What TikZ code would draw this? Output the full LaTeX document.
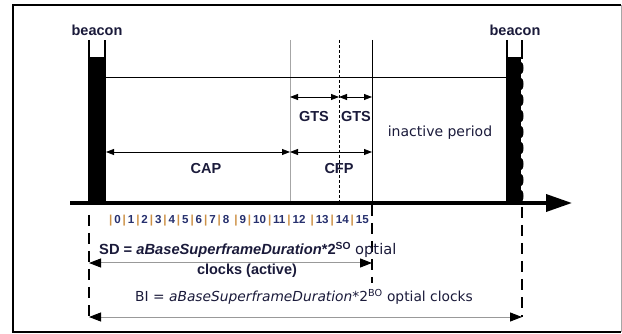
\documentclass[tikz,border=0pt]{standalone}
\usepackage{fontspec}
\setmainfont{Liberation Sans}
\newfontfamily\plainfont{DejaVu Sans}
\usetikzlibrary{arrows.meta}

\definecolor{labelink}{RGB}{26,26,58}
\definecolor{slotbar}{RGB}{205,145,70}
\definecolor{slotnum}{RGB}{38,48,110}
\newcommand{\slotsep}{\textcolor{slotbar}{\,|\,}}

\tikzset{
  lbl/.style={text=labelink, font=\bfseries\fontsize{14.5}{16}\selectfont, inner sep=0pt},
  plainlbl/.style={text=labelink, font=\plainfont\fontsize{13.8}{15}\selectfont, inner sep=0pt},
  dimarrow/.style={{Triangle[length=8pt,width=6pt]}-{Triangle[length=8pt,width=6pt]}, line width=0.8pt},
  spanarrow/.style={{Triangle[length=12pt,width=9pt,color=black]}-{Triangle[length=12pt,width=9pt,color=black]}, gray!80, line width=1pt},
  guideline/.style={line width=2.6pt, dash pattern=on 11pt off 7pt},
  slotline/.style={line width=0.8pt},
  beacontop/.style={line width=1.8pt, line join=miter},
}

\begin{document}
\begin{tikzpicture}[x=1pt,y=-1pt]
  \useasboundingbox (0,0) rectangle (622,334);
  % frame
  \draw[gray!70, line width=0.8pt] (621,5) -- (621,332);
  \draw[line width=1.6pt] (621,5) -- (13,5) -- (13,332) -- (621,332);

  % key points
  \coordinate (gtsA) at (290,97);
  \coordinate (gtsB) at (339,97);
  \coordinate (gtsC) at (372,97);
  \coordinate (capL) at (106,152);
  \coordinate (capR) at (290,152);
  \coordinate (cfpR) at (372,152);
  \coordinate (sdL) at (89,263);
  \coordinate (sdR) at (372,263);
  \coordinate (biL) at (89,317);
  \coordinate (biR) at (522,317);

  % slot boundaries
  \draw[gray!70, slotline] (290,40) -- (290,203);
  \draw[slotline, dashed, dash pattern=on 3pt off 2pt] (339,40) -- (339,203);
  \draw[slotline] (372,40) -- (372,203);
  \draw[slotline] (106,77) -- (506,77);

  % beacons
  \fill (88,58) rectangle (106,203);
  \draw[beacontop] (89,40) -- (89,58) -- (105,58) -- (105,40);
  \fill (506,58) rectangle (521,203);
  \foreach \y in {68,84,...,196}
    \fill (521,\y) ellipse (2.5pt and 6pt);
  \draw[beacontop] (507,40) -- (507,58) -- (522,58) -- (522,40);
  \node[lbl] (beaconL) at (97,30) {beacon};
  \node[lbl] (beaconR) at (515,30) {beacon};

  % time axis
  \draw[line width=3.6pt, -{Triangle[length=26pt,width=17pt]}] (70,203) -- (572,203);

  % period arrows
  \draw[dimarrow] (gtsA) -- (gtsB);
  \draw[dimarrow] (gtsB) -- (gtsC);
  \draw[dimarrow] (capL) -- (capR);
  \draw[dimarrow] (capR) -- (cfpR);
  \node[lbl] (gts1) at (314,117) {GTS};
  \node[lbl] (gts2) at (356,117) {GTS};
  \node[lbl] (cap) at (206,169) {CAP};
  \node[lbl] (cfp) at (339,169) {CFP};
  \node[plainlbl, font=\plainfont\fontsize{14}{16}\selectfont] (inactive) at (440,133) {inactive period};

  % slot numbers
  \node[anchor=west, inner sep=0pt, text=slotnum, font=\bfseries\fontsize{11.6}{12}\selectfont]
    (slots) at (107,221) {\slotsep0\slotsep1\slotsep2\slotsep3\slotsep4\slotsep5\slotsep6\slotsep7\slotsep8\ \slotsep9\slotsep10\slotsep11\slotsep12\ \slotsep13\slotsep14\slotsep15};

  % superframe and beacon interval
  \draw[guideline] (89,215) -- (biL);
  \draw[guideline] (372,205) -- (372,283);
  \draw[guideline] (522,207) -- (biR);
  \draw[spanarrow] (sdL) -- (sdR);
  \draw[spanarrow] (biL) -- (biR);
  \node[lbl, anchor=west, font=\bfseries\fontsize{14.7}{16}\selectfont] (sd) at (99,250)
    {SD = \textit{aBaseSuperframeDuration}*2\textsuperscript{SO} {\plainfont\mdseries optial}};
  \node[lbl] (sdclk) at (247,271) {clocks (active)};
  \node[plainlbl, anchor=west] (bi) at (135,297)
    {BI = \textit{aBaseSuperframeDuration}*2\textsuperscript{BO} optial clocks};
\end{tikzpicture}
\end{document}
